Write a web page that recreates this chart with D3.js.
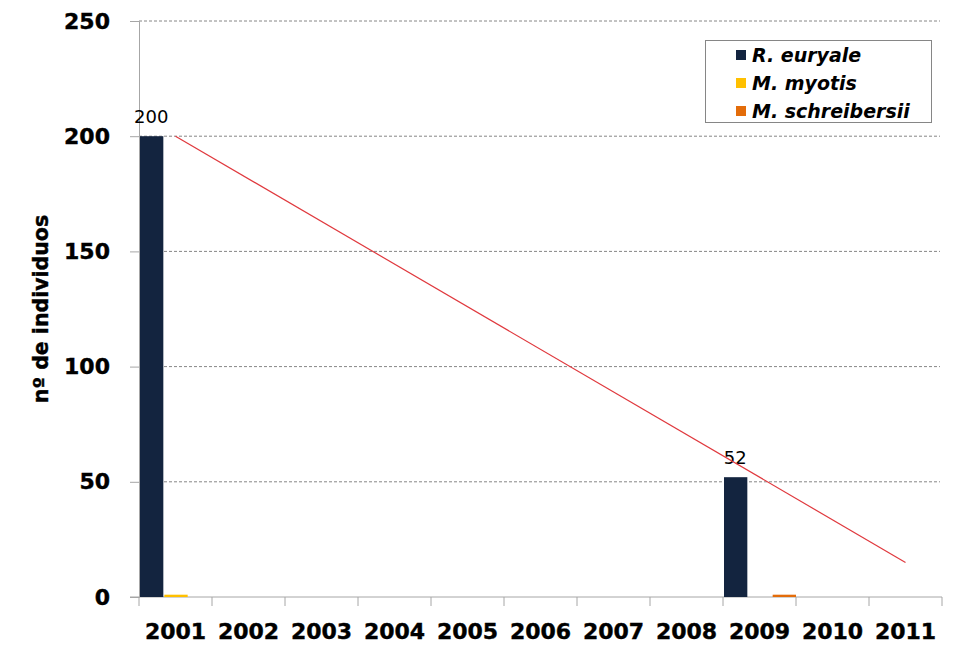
<!DOCTYPE html>
<html><head><meta charset="utf-8">
<script src="https://cdn.jsdelivr.net/npm/d3@7"></script>
<style>body{margin:0;background:#fff}</style>
</head><body>
<svg id="c" width="954" height="648"></svg>
<script>
const years = ["2001","2002","2003","2004","2005","2006","2007","2008","2009","2010","2011"];
const seriesNames = ["R. euryale","M. myotis","M. schreibersii"];
const seriesColors = ["#13243f","#ffc000","#e36c0a"];
const rEuryale = [200,null,null,null,null,null,null,null,52,null,null];
const mMyotis = [1,null,null,null,null,null,null,null,0,null,null];
const mSchreibersii = [0,null,null,null,null,null,null,null,1,null,null];
const yTicks = [0,50,100,150,200,250];

const svg = d3.select("#c");
const L=139, R=942, T=21, B=597;
const x = d3.scaleBand().domain(years).range([L,R]).padding(0);
const xs = d3.scaleBand().domain(seriesNames).range([0,x.bandwidth()]).padding(0);
const y = d3.scaleLinear().domain([0,250]).range([B,T]);
const font = "'DejaVu Sans', Verdana, sans-serif";

// grid
svg.append("g").selectAll("line").data(yTicks.filter(d=>d>0)).join("line")
  .attr("x1",L).attr("x2",940).attr("y1",d=>y(d)).attr("y2",d=>y(d))
  .attr("stroke","#868686").attr("stroke-width",1).attr("stroke-dasharray","3,2");

// y axis
const ya = svg.append("g").attr("transform",`translate(${L},0)`)
  .call(d3.axisLeft(y).tickValues(yTicks).tickSize(9).tickPadding(20));
ya.select(".domain").attr("stroke","#a6a6a6");
ya.selectAll(".tick line").attr("stroke","#a6a6a6");
ya.selectAll("text").attr("font-family",font).attr("font-weight","bold").attr("font-size",22).attr("fill","#000")
  .attr("stroke","#000").attr("stroke-width",0.4);

// x axis
const xa = svg.append("g").attr("transform",`translate(0,${B})`)
  .call(d3.axisBottom(x).tickSize(0).tickPadding(26));
xa.select(".domain").attr("stroke","#a6a6a6").attr("d",`M${L-9},0H${R}`);
xa.selectAll("text").attr("font-family",font).attr("font-weight","bold").attr("font-size",22).attr("fill","#000")
  .attr("stroke","#000").attr("stroke-width",0.4);
svg.append("g").selectAll("line").data(d3.range(years.length+1)).join("line")
  .attr("x1",i=>L+i*x.step()).attr("x2",i=>L+i*x.step()).attr("y1",B).attr("y2",B+9)
  .attr("stroke","#a6a6a6");

// bars
const series = [rEuryale,mMyotis,mSchreibersii];
series.forEach((vals,si)=>{
  svg.append("g").selectAll("rect").data(years.map((yr,i)=>({yr,v:vals[i]})).filter(d=>d.v)).join("rect")
    .attr("x",d=>x(d.yr)+xs(seriesNames[si])+1).attr("width",xs.bandwidth()-1)
    .attr("y",d=>y(d.v)).attr("height",d=>Math.max(2,B-y(d.v)))
    .attr("fill",seriesColors[si]);
});

// data labels
svg.append("g").selectAll("text").data(years.map((yr,i)=>({yr,v:rEuryale[i]})).filter(d=>d.v)).join("text")
  .attr("x",d=>x(d.yr)+xs(seriesNames[0])+xs.bandwidth()/2).attr("y",d=>y(d.v)-13)
  .attr("text-anchor","middle").attr("font-family",font).attr("font-size",18).attr("fill","#000")
  .text(d=>d.v);

// linear trendline for R. euryale
const pts = years.map((yr,i)=>[i+1,rEuryale[i]]).filter(d=>d[1]!=null);
const mx=d3.mean(pts,d=>d[0]), my=d3.mean(pts,d=>d[1]);
const slope=d3.sum(pts,d=>(d[0]-mx)*(d[1]-my))/d3.sum(pts,d=>(d[0]-mx)**2);
const icpt=my-slope*mx;
const cx = i=>x(years[i-1])+x.bandwidth()/2;
svg.append("line").attr("x1",cx(1)).attr("y1",y(icpt+slope*1))
  .attr("x2",cx(years.length)).attr("y2",y(icpt+slope*years.length))
  .attr("stroke","#e0393e").attr("stroke-width",1.2);

// y title
svg.append("text").attr("transform","translate(48,309) rotate(-90)")
  .attr("text-anchor","middle").attr("font-family",font).attr("font-weight","bold")
  .attr("font-size",20.5).attr("fill","#000").attr("stroke","#000").attr("stroke-width",0.4)
  .text("nº de individuos");

// legend
const lg = svg.append("g");
lg.append("rect").attr("x",705.5).attr("y",40.5).attr("width",226).attr("height",82)
  .attr("fill","#fff").attr("stroke","#868686");
seriesNames.forEach((n,i)=>{
  const yy = 55+i*28;
  lg.append("rect").attr("x",736).attr("y",yy-5).attr("width",10).attr("height",10).attr("fill",seriesColors[i]);
  lg.append("text").attr("x",752).attr("y",yy+7).attr("font-family",font).attr("font-weight","bold")
    .attr("font-style","italic").attr("font-size",19).attr("fill","#000").text(n);
});
</script>
</body></html>
